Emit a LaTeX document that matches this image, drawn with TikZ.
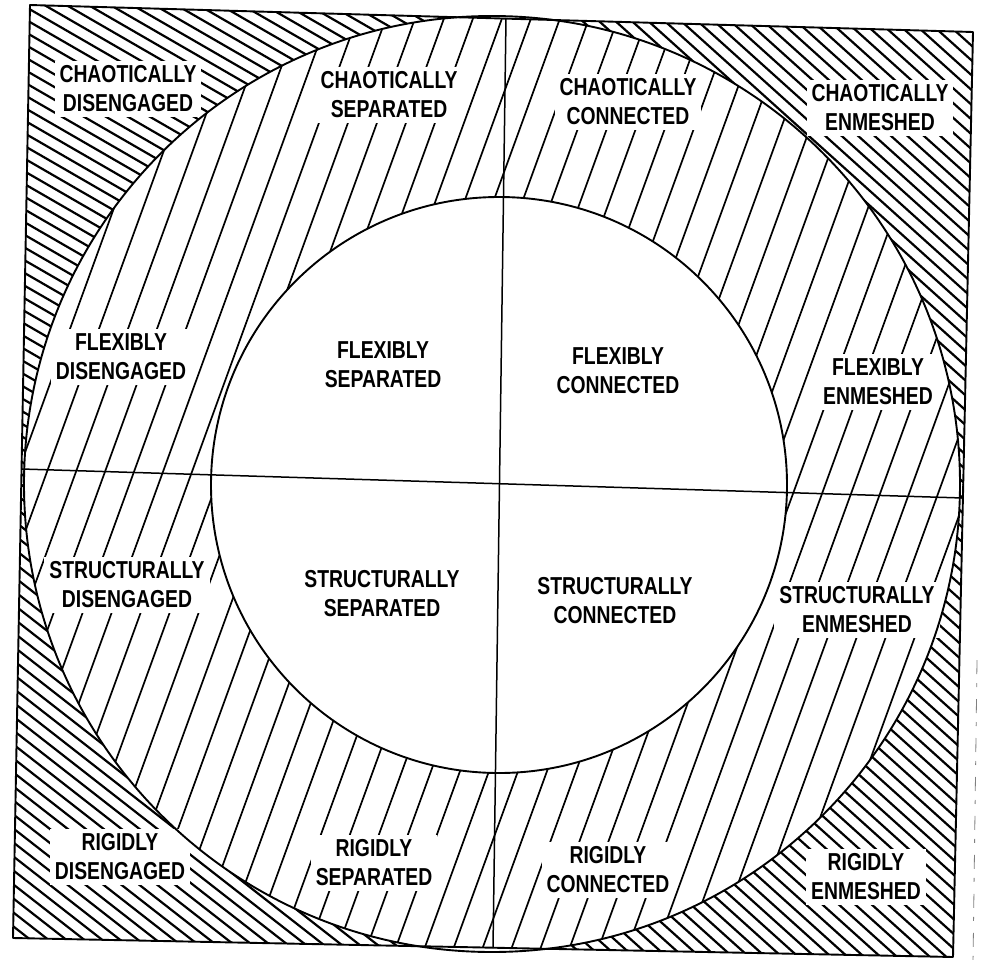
\documentclass[tikz,border=0pt]{standalone}
\usepackage{fontspec}
\setmainfont{Liberation Sans}[FakeStretch=0.79]
\begin{document}
\begin{tikzpicture}[x=1pt,y=-1pt,
  lab/.style={font=\fontsize{24.5}{29}\selectfont\bfseries, align=center, fill=white, inner sep=5pt},
  ilab/.style={font=\fontsize{24.5}{29}\selectfont\bfseries, align=center, inner sep=2pt},
  chatch/.style={line width=2.2pt, line cap=round},
  rhatch/.style={line width=1.7pt, line cap=round},
  edge/.style={line width=1.9pt, line join=round},
  divline/.style={line width=1.5pt}]
\useasboundingbox (0,0) rectangle (983,964);
% frame corners and circle centres
\coordinate (TL) at (30,5);
\coordinate (TR) at (973,32);
\coordinate (BR) at (953,957);
\coordinate (BL) at (13,938);
\coordinate (O) at (492,484);
\coordinate (I) at (499,485);
% corner hatching (outside outer circle)
\begin{scope}
  \clip (TL) -- (TR) -- (BR) -- (BL) -- cycle;
  \begin{scope}[even odd rule]
    \clip (-20,-20) rectangle (1003,984) (O) circle[radius=468];
    \begin{scope}
      \clip (0,0) rectangle (492,484);
      \foreach \c in {-300,-287.3,...,490} \draw[chatch] (0,\c) -- ++(500,288.7);
    \end{scope}
    \begin{scope}
      \clip (492,0) rectangle (983,484);
      \foreach \c in {-460,-445.2,...,490} \draw[chatch] (492,\c) -- ++(500,450);
    \end{scope}
    \begin{scope}
      \clip (0,484) rectangle (492,964);
      \foreach \c in {90,104,...,970} \draw[chatch] (0,\c) -- ++(500,390.5);
    \end{scope}
    \begin{scope}
      \clip (492,484) rectangle (983,964);
      \foreach \c in {30,44.8,...,970} \draw[chatch] (492,\c) -- ++(500,450);
    \end{scope}
  \end{scope}
\end{scope}
% ring hatching (between the circles)
\begin{scope}
  \clip (TL) -- (TR) -- (BR) -- (BL) -- cycle;
  \begin{scope}[even odd rule]
    \clip (O) circle[radius=468] (I) circle[radius=288];
    \foreach \k in {-8,...,40} \draw[rhatch] ({218.7+29*\k},0) -- ++(-350.9,964);
  \end{scope}
\end{scope}
% labels
\node[lab] (cd) at (128,89) {CHAOTICALLY\\DISENGAGED};
\node[lab] (cs) at (389,95) {CHAOTICALLY\\SEPARATED};
\node[lab] (cc) at (628,102) {CHAOTICALLY\\CONNECTED};
\node[lab] (ce) at (880,108) {CHAOTICALLY\\ENMESHED};
\node[lab] (fd) at (121,357) {FLEXIBLY\\DISENGAGED};
\node[ilab] (fs) at (383,365) {FLEXIBLY\\SEPARATED};
\node[ilab] (fc) at (618,371) {FLEXIBLY\\CONNECTED};
\node[lab] (fe) at (878,382) {FLEXIBLY\\ENMESHED};
\node[lab] (sd) at (127,585) {STRUCTURALLY\\DISENGAGED};
\node[ilab] (ss) at (382,594) {STRUCTURALLY\\SEPARATED};
\node[ilab] (sc) at (615,601) {STRUCTURALLY\\CONNECTED};
\node[lab] (se) at (857,610) {STRUCTURALLY\\ENMESHED};
\node[lab] (rd) at (120,857) {RIGIDLY\\DISENGAGED};
\node[lab] (rs) at (374,863) {RIGIDLY\\SEPARATED};
\node[lab] (rc) at (608,870) {RIGIDLY\\CONNECTED};
\node[lab] (re) at (866,877) {RIGIDLY\\ENMESHED};
% outlines
\draw[edge] (O) circle[radius=468];
\draw[edge] (I) circle[radius=288];
\draw[edge] (TL) -- (TR) -- (BR) -- (BL) -- cycle;
% dividing lines
\coordinate (VT) at (506,18);
\coordinate (VB) at (493,948);
\coordinate (HL) at (21.5,469);
\coordinate (HR) at (963,498);
\draw[divline] (VT) -- (VB);
\draw[divline] (HL) -- (HR);
% scan mark at right
\coordinate (ST) at (977,660);
\coordinate (SB) at (973,964);
\draw[gray, line width=0.8pt, dash pattern=on 14pt off 9pt on 4pt off 12pt] (ST) -- (SB);
\end{tikzpicture}
\end{document}
